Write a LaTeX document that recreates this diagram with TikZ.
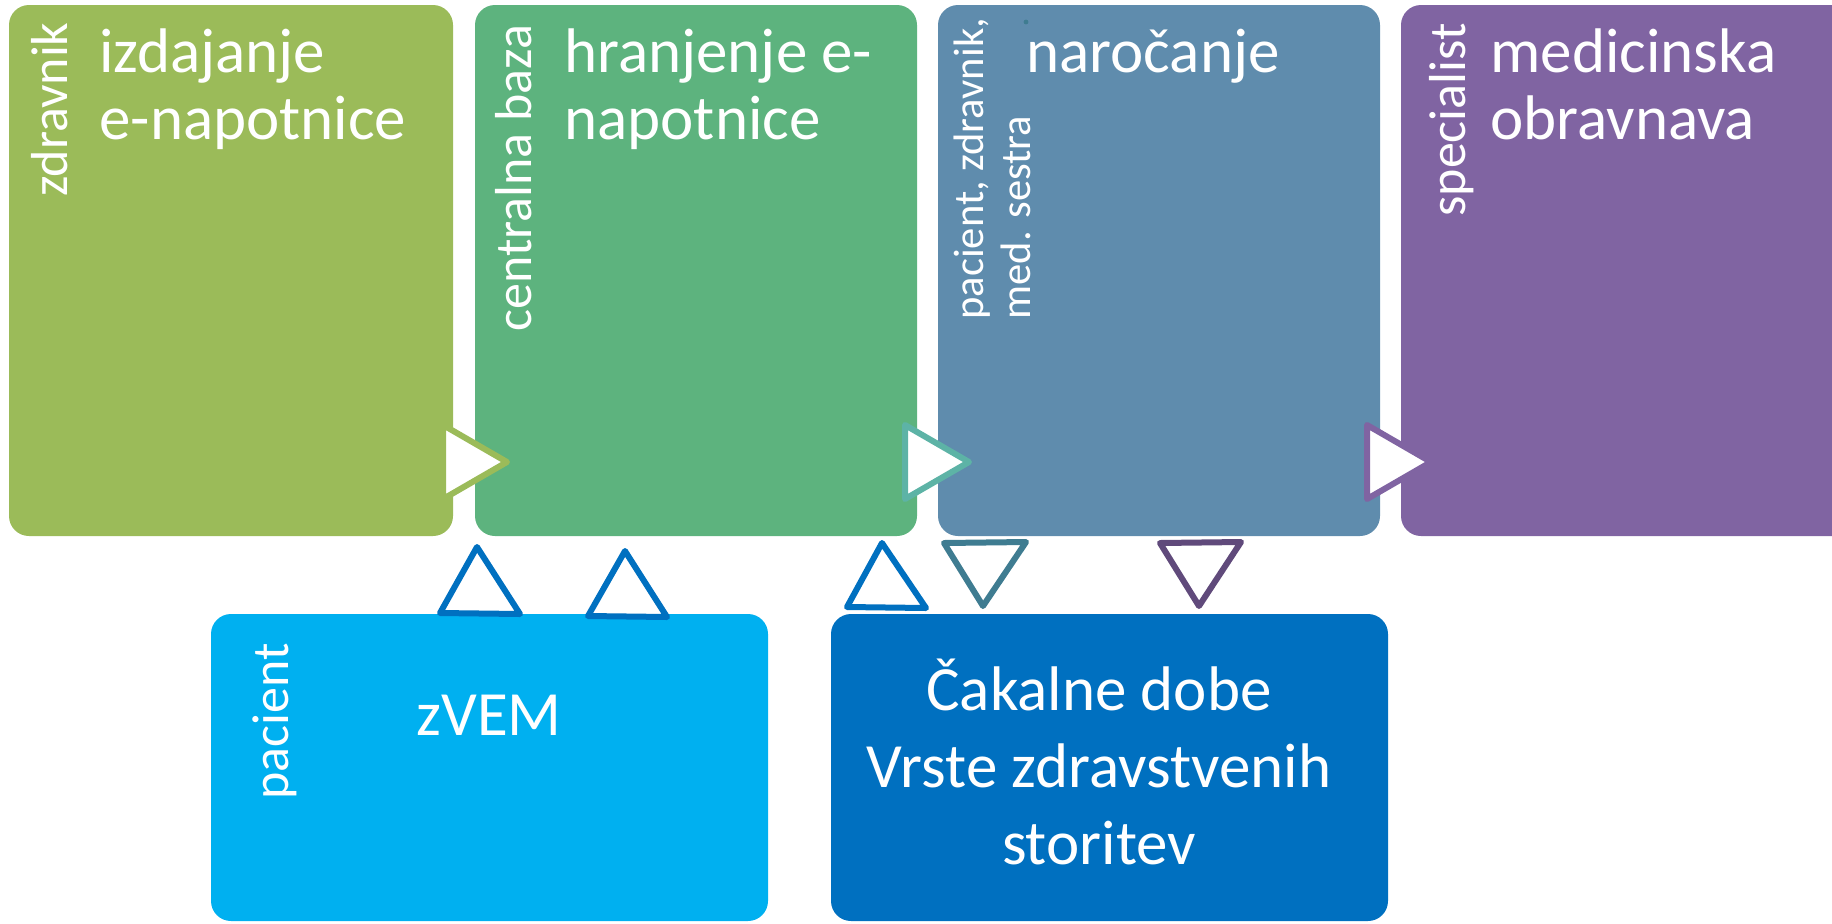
\documentclass[tikz,border=0pt]{standalone}
\usepackage{fontspec}
\setmainfont{Carlito}
\definecolor{cA}{HTML}{9BBB59}
\definecolor{cB}{HTML}{5DB37E}
\definecolor{cC}{HTML}{5F8CAD}
\definecolor{cD}{HTML}{8064A2}
\definecolor{cE}{HTML}{00B0F0}
\definecolor{cF}{HTML}{0070C0}
\definecolor{tB}{HTML}{5DB3A6}
\definecolor{tD}{HTML}{3F7C91}
\definecolor{tE}{HTML}{604A7B}
\begin{document}
\begin{tikzpicture}[x=0.5pt,y=-0.5pt,
  box/.style={rounded corners=10pt, inner sep=0pt, draw=none},
  main/.style={text=white, font=\fontsize{31.5}{33.5}\selectfont, anchor=base west, inner sep=0pt, align=left},
  side/.style={text=white, font=\fontsize{26}{30}\selectfont, anchor=base west, inner sep=0pt, rotate=90},
  tri/.style={fill=white, line width=3pt, line join=round}]
\useasboundingbox (0,0) rectangle (1832,923);
% boxes
\node[box, fill=cA, minimum width=222pt, minimum height=265.5pt] (b1) at (231,270.5) {};
\node[box, fill=cB, minimum width=221pt, minimum height=265.5pt] (b2) at (696,270.5) {};
\node[box, fill=cC, minimum width=221pt, minimum height=265.5pt] (b3) at (1159,270.5) {};
\node[box, fill=cD, minimum width=225.5pt, minimum height=265.5pt] (b4) at (1626.5,270.5) {};
\node[box, fill=cE, minimum width=278.5pt, minimum height=153.5pt] (b5) at (489.5,767.5) {};
\node[box, fill=cF, minimum width=278.5pt, minimum height=153.5pt] (b6) at (1109.5,767.5) {};
% texts (base anchor = baseline of the last line)
\node[side] (s1) at (67,197) {zdravnik};
\node[main] (m1) at (99,139) {izdajanje\\e-napotnice};
\node[side] (s2) at (531,332) {centralna baza};
\node[main] (m2) at (564,139) {hranjenje e-\\napotnice};
\node[side, font=\fontsize{21.3}{23.5}\selectfont, align=left] (s3) at (1030,320) {pacient, zdravnik,\\med. sestra};
\node[main] (m3) at (1026,72) {naročanje};
\node[side] (s4) at (1465,217) {specialist};
\node[main] (m4) at (1490,139) {medicinska\\obravnava};
\node[side] (s5) at (288,800) {pacient};
\node[main] (m5) at (416,735) {zVEM};
\node[main, anchor=base, align=center, font=\fontsize{31.5}{38.5}\selectfont] (m6) at (1099,864) {Čakalne dobe\\Vrste zdravstvenih\\storitev};
\fill[tD] (1026,22) circle (1.2pt);
% triangles
\draw[tri, draw=cA] (443,425) -- (507,462) -- (443,499) -- cycle;
\draw[tri, draw=tB] (905,425) -- (969,462) -- (905,499) -- cycle;
\draw[tri, draw=cD] (1367,425) -- (1431,462) -- (1367,499) -- cycle;
\draw[tri, draw=cF] (477,547) -- (520,614) -- (440,613) -- cycle;
\draw[tri, draw=cF] (625,551) -- (667,617) -- (588,616) -- cycle;
\draw[tri, draw=cF] (882,543) -- (926,608) -- (847,607) -- cycle;
\draw[tri, draw=tD] (944,543) -- (1026,542) -- (983,606) -- cycle;
\draw[tri, draw=tE] (1160,543) -- (1241,542) -- (1199,606) -- cycle;
\end{tikzpicture}
\end{document}
